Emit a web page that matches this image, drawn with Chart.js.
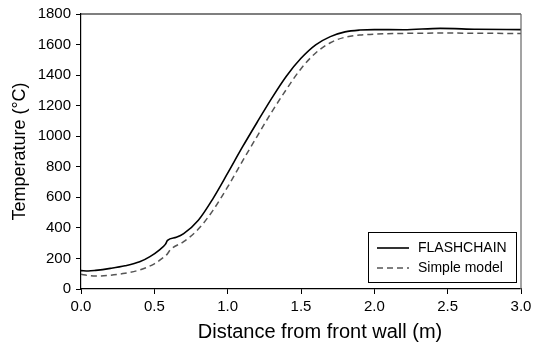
<!DOCTYPE html>
<html>
<head>
<meta charset="utf-8">
<script src="https://cdn.jsdelivr.net/npm/chart.js@4.4.1/dist/chart.umd.min.js"></script>
<style>
  html, body { margin: 0; padding: 0; background: #fff; }
  #wrap { width: 538px; height: 349px; }
</style>
</head>
<body>
<div id="wrap"><canvas id="c" width="538" height="349"></canvas></div>
<script>
// Data
const flashX = [0.0, 0.05, 0.1, 0.2, 0.3, 0.4, 0.47, 0.54, 0.575, 0.59, 0.65, 0.7, 0.8, 0.9, 1.0, 1.1, 1.2, 1.3, 1.4, 1.5, 1.6, 1.7, 1.8, 1.9, 2.0, 2.2, 2.45, 2.7, 3.0];
const flashT = [120, 118, 122, 135, 152, 178, 212, 260, 292, 318, 338, 362, 450, 592, 758, 928, 1090, 1248, 1393, 1510, 1598, 1652, 1683, 1695, 1698, 1697, 1706, 1700, 1698];

const simpleX = [0.0, 0.05, 0.1, 0.2, 0.3, 0.4, 0.5, 0.56, 0.585, 0.61, 0.7, 0.8, 0.9, 1.0, 1.1, 1.2, 1.3, 1.4, 1.5, 1.6, 1.7, 1.8, 1.9, 2.0, 2.5, 3.0];
const simpleT = [96, 88, 85, 90, 103, 125, 165, 205, 225, 258, 310, 392, 515, 668, 835, 998, 1158, 1306, 1442, 1545, 1612, 1648, 1662, 1668, 1675, 1672];

const xTicks = [0.0, 0.5, 1.0, 1.5, 2.0, 2.5, 3.0];
const yTicks = [0, 200, 400, 600, 800, 1000, 1200, 1400, 1600, 1800];

const seriesNames = ['FLASHCHAIN', 'Simple model'];
const xTitle = 'Distance from front wall (m)';
const yTitle = 'Temperature (°C)';

const toPts = (xs, ys) => xs.map((x, i) => ({ x: x, y: ys[i] }));

const FONT = 'Liberation Sans, Arial, sans-serif';

const framePlugin = {
  id: 'frame',
  afterDraw(chart) {
    const { ctx, chartArea: a } = chart;
    ctx.save();
    ctx.lineWidth = 1.2;
    ctx.strokeStyle = '#000';
    ctx.beginPath();
    ctx.moveTo(a.left, a.top);
    ctx.lineTo(a.right, a.top);
    ctx.stroke();
    ctx.strokeStyle = '#666';
    ctx.beginPath();
    ctx.moveTo(a.right, a.top);
    ctx.lineTo(a.right, a.bottom);
    ctx.stroke();
    // x axis title
    ctx.fillStyle = '#000';
    ctx.font = '20px ' + FONT;
    ctx.textAlign = 'center';
    ctx.textBaseline = 'middle';
    ctx.fillText(xTitle, (a.left + a.right) / 2 + 19, a.bottom + 43);
    ctx.restore();
  }
};

const legendPlugin = {
  id: 'boxLegend',
  afterDraw(chart) {
    const { ctx, chartArea: a } = chart;
    const w = 148, h = 50;
    const x0 = a.right - 5 - w, y0 = a.bottom - 7 - h;
    ctx.save();
    ctx.fillStyle = '#fff';
    ctx.fillRect(x0, y0, w, h);
    ctx.lineWidth = 1;
    ctx.strokeStyle = '#000';
    ctx.strokeRect(x0 + 0.5, y0 + 0.5, w, h);
    ctx.font = '14px ' + FONT;
    ctx.textBaseline = 'middle';
    ctx.fillStyle = '#000';
    chart.data.datasets.forEach((ds, i) => {
      const yy = y0 + 16 + i * 20;
      ctx.beginPath();
      ctx.strokeStyle = ds.borderColor;
      ctx.lineWidth = ds.borderWidth;
      ctx.setLineDash(ds.borderDash || []);
      ctx.moveTo(x0 + 9, yy);
      ctx.lineTo(x0 + 41, yy);
      ctx.stroke();
      ctx.setLineDash([]);
      ctx.fillText(ds.label, x0 + 50, yy);
    });
    ctx.restore();
  }
};

new Chart(document.getElementById('c'), {
  type: 'scatter',
  data: {
    datasets: [
      {
        label: seriesNames[0],
        data: toPts(flashX, flashT),
        showLine: true,
        borderColor: '#000',
        borderWidth: 1.6,
        pointRadius: 0,
        cubicInterpolationMode: 'monotone'
      },
      {
        label: seriesNames[1],
        data: toPts(simpleX, simpleT),
        showLine: true,
        borderColor: '#555',
        borderWidth: 1.5,
        borderDash: [6, 4],
        pointRadius: 0,
        cubicInterpolationMode: 'monotone'
      }
    ]
  },
  options: {
    responsive: false,
    animation: false,
    layout: { padding: { top: 14, right: 17, left: 0, bottom: 0 } },
    plugins: { legend: { display: false }, tooltip: { enabled: false } },
    scales: {
      x: {
        type: 'linear',
        min: 0, max: 3,
        afterBuildTicks(s) { s.ticks = xTicks.map(v => ({ value: v })); },
        afterFit(s) { s.height = 60; },
        ticks: {
          color: '#000',
          font: { family: FONT, size: 15 },
          padding: 4,
          callback: v => Number(v).toFixed(1)
        },
        grid: { drawOnChartArea: false, drawTicks: true, tickLength: 5, color: '#000' },
        border: { color: '#000', width: 1.2 },
        title: { display: false }
      },
      y: {
        type: 'linear',
        min: 0, max: 1800,
        afterBuildTicks(s) { s.ticks = yTicks.map(v => ({ value: v })); },
        afterFit(s) { s.width = 81; },
        ticks: {
          color: '#000',
          font: { family: FONT, size: 15 },
          padding: 5,
          callback: v => String(v)
        },
        grid: { drawOnChartArea: false, drawTicks: true, tickLength: 5, color: '#000' },
        border: { color: '#000', width: 1.2 },
        title: {
          display: true,
          text: yTitle,
          color: '#000',
          font: { family: FONT, size: 18 },
          padding: { top: 9, bottom: 0 }
        }
      }
    }
  },
  plugins: [framePlugin, legendPlugin]
});
</script>
</body>
</html>
